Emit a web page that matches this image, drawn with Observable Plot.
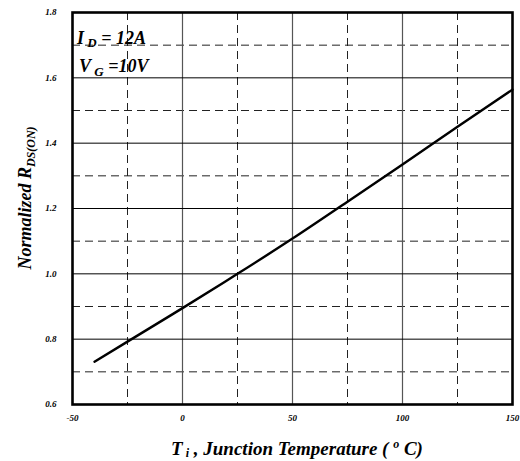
<!DOCTYPE html>
<html>
<head>
<meta charset="utf-8">
<script src="https://cdn.jsdelivr.net/npm/d3@7"></script>
<script src="https://cdn.jsdelivr.net/npm/@observablehq/plot@0.6"></script>
<style>
  body { margin: 0; background: #fff; }
  svg text { font-family: "Liberation Serif", "DejaVu Serif", serif; }
</style>
</head>
<body>
<div id="chart"></div>
<script>
// Junction temperature (°C) and normalized on-resistance
const temps = [-40, -25, 0, 25, 50, 75, 100, 125, 150];
const rdsOn = [0.731, 0.7925, 0.895, 1.0, 1.108, 1.221, 1.335, 1.450, 1.564];

const xTicks = [-50, 0, 50, 100, 150];
const yTicks = [0.6, 0.8, 1.0, 1.2, 1.4, 1.6, 1.8];
const xMajorGrid = [0, 50, 100];
const xMinorGrid = [-25, 25, 75, 125];
const yMajorGrid = [0.8, 1.0, 1.2, 1.4, 1.6];
const yMinorGrid = [0.7, 0.9, 1.1, 1.3, 1.5, 1.7];

const data = temps.map((t, i) => ({t, r: rdsOn[i]}));

const chart = Plot.plot({
  width: 520,
  height: 461,
  marginLeft: 72,
  marginRight: 8,
  marginTop: 12,
  marginBottom: 57,
  style: {fontFamily: "Liberation Serif", fontSize: "9px", fontStyle: "italic", fontWeight: "bold", background: "#fff", color: "#000"},
  x: {domain: [-50, 150]},
  y: {domain: [0.6, 1.8]},
  marks: [
    Plot.ruleX(xMinorGrid, {stroke: "#222", strokeWidth: 1, strokeDasharray: "8,5"}),
    Plot.ruleY(yMinorGrid, {stroke: "#222", strokeWidth: 1, strokeDasharray: "8,5"}),
    Plot.ruleX(xMajorGrid, {stroke: "#555", strokeWidth: 1.2}),
    Plot.ruleY(yMajorGrid, {stroke: "#000", strokeWidth: 1}),
    Plot.line(data, {x: "t", y: "r", stroke: "#000", strokeWidth: 2.4, curve: "natural"}),
    Plot.frame({stroke: "#000", strokeWidth: 2.6}),
    Plot.axisX({ticks: xTicks, tickSize: 0, tickPadding: 10, label: null, tickFormat: d => String(d)}),
    Plot.axisY({ticks: yTicks, tickSize: 0, tickPadding: 16, label: null, tickFormat: d => d.toFixed(1)})
  ]
});

document.getElementById("chart").appendChild(chart);

const svg = d3.select(chart);
const font = "Liberation Serif";

// Annotations
const a1 = svg.append("text").attr("x", 77).attr("y", 44).attr("text-anchor", "start")
  .attr("font-family", font).attr("font-size", 18).attr("font-style", "italic").attr("font-weight", "bold");
a1.append("tspan").text("I");
a1.append("tspan").attr("font-size", 13).attr("dy", 3).text(" D");
a1.append("tspan").attr("dy", -3).text(" = 12A");

const a2 = svg.append("text").attr("x", 79).attr("y", 72).attr("text-anchor", "start")
  .attr("font-family", font).attr("font-size", 18).attr("font-style", "italic").attr("font-weight", "bold");
a2.append("tspan").text("V");
a2.append("tspan").attr("font-size", 13).attr("dy", 4).text(" G");
a2.append("tspan").attr("dy", -4).text(" =10V");

// Y axis label
const yl = svg.append("text")
  .attr("transform", "translate(31,198) rotate(-90)")
  .attr("text-anchor", "middle")
  .attr("font-family", font).attr("font-size", 18).attr("font-style", "italic").attr("font-weight", "bold");
yl.append("tspan").text("Normalized R");
yl.append("tspan").attr("font-size", 12).attr("dy", 4).text("DS(ON)");

// X axis label
const xl = svg.append("text")
  .attr("x", 297).attr("y", 455)
  .attr("text-anchor", "middle")
  .attr("font-family", font).attr("font-size", 19).attr("font-style", "italic").attr("font-weight", "bold");
xl.append("tspan").text("T");
xl.append("tspan").attr("font-size", 12).attr("dy", 2).text(" i");
xl.append("tspan").attr("dy", -2).text(" , Junction Temperature ( ");
xl.append("tspan").attr("font-size", 12).attr("dy", -7).text("o");
xl.append("tspan").attr("dy", 7).text(" C)");
</script>
</body>
</html>
